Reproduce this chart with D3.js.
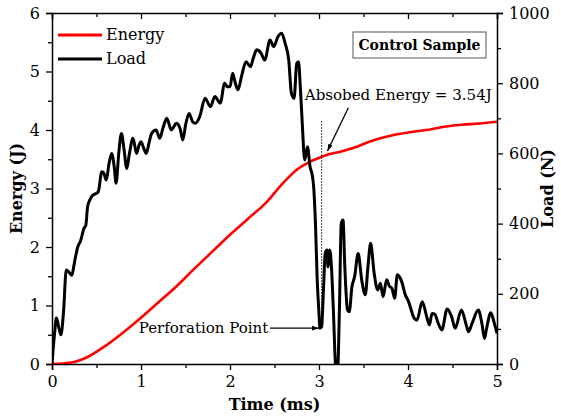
<!DOCTYPE html>
<html><head><meta charset="utf-8">
<script src="https://cdn.jsdelivr.net/npm/d3@7"></script>
<style>body{margin:0;background:#fff}svg{display:block}</style>
</head><body><svg id="c" width="561" height="418"></svg>
<script>
const energyTime = [0,0.2,0.4,0.6,0.8,1.0,1.2,1.4,1.6,1.8,2.0,2.2,2.4,2.6,2.75,2.9,3.03,3.1,3.24,3.4,3.55,3.69,3.85,4.06,4.25,4.43,4.6,4.8,5.0];
const energyValues = [0,0.02,0.12,0.31,0.54,0.79,1.06,1.33,1.63,1.92,2.21,2.48,2.75,3.10,3.32,3.46,3.54,3.58,3.63,3.70,3.79,3.86,3.92,3.97,4.01,4.06,4.09,4.11,4.14];
const loadTime = [0,0.03,0.05,0.08,0.1,0.13,0.16,0.19,0.22,0.26,0.29,0.32,0.36,0.38,0.40,0.43,0.46,0.49,0.52,0.56,0.58,0.61,0.64,0.67,0.70,0.72,0.75,0.78,0.81,0.84,0.87,0.91,0.95,0.98,1.0,1.03,1.06,1.09,1.12,1.17,1.21,1.25,1.29,1.34,1.40,1.44,1.47,1.50,1.54,1.58,1.61,1.66,1.72,1.78,1.83,1.89,1.94,1.97,2.0,2.03,2.06,2.09,2.13,2.18,2.23,2.26,2.30,2.35,2.39,2.45,2.49,2.54,2.58,2.62,2.66,2.69,2.72,2.75,2.77,2.79,2.81,2.84,2.87,2.90,2.92,2.94,2.96,2.98,3.0,3.01,3.03,3.05,3.07,3.09,3.10,3.12,3.14,3.16,3.19,3.21,3.23,3.25,3.27,3.29,3.32,3.34,3.37,3.40,3.44,3.48,3.52,3.55,3.58,3.62,3.66,3.69,3.72,3.76,3.79,3.82,3.85,3.88,3.90,3.93,3.97,4.0,4.03,4.06,4.10,4.16,4.21,4.24,4.27,4.30,4.34,4.38,4.44,4.49,4.53,4.60,4.66,4.68,4.72,4.79,4.83,4.86,4.88,4.93,4.97,5.0];
const loadValues = [0,90,131,100,83,150,268,262,253,300,334,350,387,395,448,470,481,485,491,548,545,524,570,600,560,515,600,657,610,557,600,643,600,625,633,615,600,630,657,667,643,675,700,667,686,670,638,680,714,690,686,705,757,733,762,743,800,790,790,828,800,781,820,861,847,870,895,885,866,923,904,933,942,913,866,771,757,856,861,790,695,581,619,562,543,505,401,239,144,102,106,211,315,325,277,325,277,163,-10,-10,163,401,410,277,154,149,220,249,315,239,197,277,344,258,211,230,192,240,222,215,187,254,250,234,197,182,159,135,125,177,135,111,144,142,116,97,157,135,102,154,106,92,116,154,116,73,97,146,116,87];
const xTicks = [0,1,2,3,4,5];
const energyTicks = [0,1,2,3,4,5,6];
const loadTicks = [0,200,400,600,800,1000];
const seriesNames = ["Energy","Load"];
const perforation = {t:3.01, load:102, label:"Perforation Point"};
const absorbed = {t:3.03, energy:3.54, label:"Absobed Energy = 3.54J"};
const titleText = "Control Sample";

const FONT = "DejaVu Serif";
const svg = d3.select("#c");
const L = 52, R = 497, T = 13, B = 364;
const x = d3.scaleLinear().domain([0,5]).range([L,R]);
const yE = d3.scaleLinear().domain([0,6]).range([B,T]);
const yL = d3.scaleLinear().domain([0,1000]).range([B,T]);

svg.append("defs").append("clipPath").attr("id","clip")
  .append("rect").attr("x",L).attr("y",T).attr("width",R-L).attr("height",B-T);
const mk = svg.select("defs").append("marker").attr("id","arr").attr("viewBox","0 0 10 10")
  .attr("refX",10).attr("refY",5).attr("markerWidth",7).attr("markerHeight",7).attr("orient","auto").attr("markerUnits","userSpaceOnUse");
mk.append("path").attr("d","M0,1.5 L10,5 L0,8.5 Z").attr("fill","#000");

const g = svg.append("g");
function axisStyle(sel){
  sel.attr("font-family",FONT);
  sel.selectAll(".domain").attr("stroke","#000").attr("stroke-width",1.5);
  sel.selectAll(".tick line").attr("stroke","#000").attr("stroke-width",1.3);
  sel.selectAll("text").attr("font-size",16).attr("fill","#000").attr("font-family",FONT);
}
const minorX = d3.range(0.5,5,1);
const minorE = d3.range(0.5,6,1);
const minorL = d3.range(100,1000,200);

const gb = g.append("g").attr("transform",`translate(0,${B})`).call(d3.axisBottom(x).tickValues(xTicks).tickFormat(d3.format("d")).tickSize(6).tickPadding(6));
axisStyle(gb);
g.append("g").attr("transform",`translate(0,${B})`).call(d3.axisBottom(x).tickValues(minorX).tickFormat("").tickSize(4)).call(s=>{s.select(".domain").remove();axisStyle(s);});
const gt = g.append("g").attr("transform",`translate(0,${T})`).call(d3.axisBottom(x).tickValues(xTicks).tickFormat("").tickSize(6));
axisStyle(gt);
g.append("g").attr("transform",`translate(0,${T})`).call(d3.axisBottom(x).tickValues(minorX).tickFormat("").tickSize(4)).call(s=>{s.select(".domain").remove();axisStyle(s);});
const gl = g.append("g").attr("transform",`translate(${L},0)`).call(d3.axisLeft(yE).tickValues(energyTicks).tickFormat(d3.format("d")).tickSize(6).tickPadding(6));
axisStyle(gl);
g.append("g").attr("transform",`translate(${L},0)`).call(d3.axisLeft(yE).tickValues(minorE).tickFormat("").tickSize(4)).call(s=>{s.select(".domain").remove();axisStyle(s);});
const gr = g.append("g").attr("transform",`translate(${R},0)`).call(d3.axisRight(yL).tickValues(loadTicks).tickFormat(d3.format("d")).tickSize(6).tickPadding(6));
axisStyle(gr);
g.append("g").attr("transform",`translate(${R},0)`).call(d3.axisRight(yL).tickValues(minorL).tickFormat("").tickSize(4)).call(s=>{s.select(".domain").remove();axisStyle(s);});

function txt(){ return svg.append("text").attr("font-family",FONT).attr("fill","#000"); }
txt().attr("x",(L+R)/2).attr("y",410).attr("text-anchor","middle").attr("font-size",16).attr("font-weight","bold").text("Time (ms)");
txt().attr("transform",`translate(22,${(T+B)/2}) rotate(-90)`).attr("text-anchor","middle").attr("font-size",16).attr("font-weight","bold").text("Energy (J)");
txt().attr("transform",`translate(553,${(T+B)/2}) rotate(-90)`).attr("text-anchor","middle").attr("font-size",16).attr("font-weight","bold").text("Load (N)");

const plot = svg.append("g").attr("clip-path","url(#clip)");
const eData = energyTime.map((t,i)=>({t,v:energyValues[i]}));
const lData = loadTime.map((t,i)=>({t,v:loadValues[i]}));
plot.append("path").datum(eData).attr("fill","none").attr("stroke","#ff0000").attr("stroke-width",2.6)
  .attr("d",d3.line().x(d=>x(d.t)).y(d=>yE(d.v)).curve(d3.curveMonotoneX));
plot.append("path").datum(lData).attr("fill","none").attr("stroke","#000").attr("stroke-width",3).attr("stroke-linejoin","round")
  .attr("d",d3.line().x(d=>x(d.t)).y(d=>yL(d.v)).curve(d3.curveMonotoneX));

svg.append("line").attr("x1",x(absorbed.t)).attr("x2",x(absorbed.t)).attr("y1",yE(4.15)).attr("y2",yL(perforation.load))
  .attr("stroke","#000").attr("stroke-width",1).attr("stroke-dasharray","1.5,1.5");
txt().attr("x",x(2.84)).attr("y",yE(4.51)).attr("font-size",15).attr("textLength",187).attr("lengthAdjust","spacingAndGlyphs").text(absorbed.label);
svg.append("line").attr("x1",x(3.33)).attr("y1",yE(4.38)).attr("x2",x(3.095)).attr("y2",yE(3.64))
  .attr("stroke","#000").attr("stroke-width",1.3).attr("marker-end","url(#arr)");
txt().attr("x",x(2.43)).attr("y",yL(perforation.load)).attr("dy","0.33em").attr("text-anchor","end").attr("font-size",15).text(perforation.label);
svg.append("line").attr("x1",x(2.45)).attr("y1",yL(perforation.load)).attr("x2",x(perforation.t)-1).attr("y2",yL(perforation.load))
  .attr("stroke","#000").attr("stroke-width",1.3).attr("marker-end","url(#arr)");

const colors = ["#ff0000","#000"];
seriesNames.forEach((n,i)=>{
  const yy = 35 + i*24;
  svg.append("line").attr("x1",58).attr("x2",102).attr("y1",yy).attr("y2",yy).attr("stroke",colors[i]).attr("stroke-width",3);
  txt().attr("x",106).attr("y",yy).attr("dy","0.33em").attr("font-size",16).text(n);
});
svg.append("rect").attr("x",353).attr("y",32).attr("width",133).attr("height",26).attr("fill","#fff").attr("stroke","#555").attr("stroke-width",1);
txt().attr("x",419.5).attr("y",45).attr("dy","0.35em").attr("text-anchor","middle").attr("font-size",14).attr("font-weight","bold").text(titleText);
</script></body></html>
